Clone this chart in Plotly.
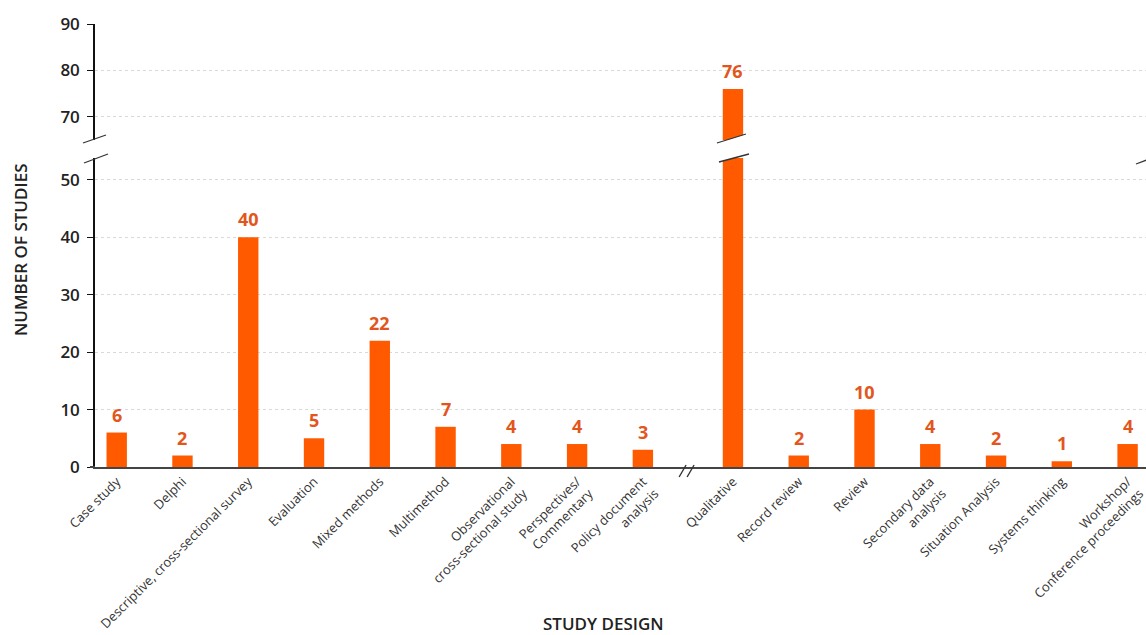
import plotly.graph_objects as go

# Study designs and number of studies per design
categories = [
    "Case study", "Delphi", "Descriptive, cross-sectional survey", "Evaluation",
    "Mixed methods", "Multimethod", "Observational<br>cross-sectional study",
    "Perspectives/<br>Commentary", "Policy document<br>analysis", "Qualitative",
    "Record review", "Review", "Secondary data<br>analysis", "Situation Analysis",
    "Systems thinking", "Workshop/<br>Conference proceedings",
]
counts = [6, 2, 40, 5, 22, 7, 4, 4, 3, 76, 2, 10, 4, 2, 1, 4]

lower_ticks = [0, 10, 20, 30, 40, 50]
upper_ticks = [70, 80, 90]

# Axis break settings
LOWER_MAX = 53.8
UPPER_MIN = 65.0
UPPER_MAX = 90.0
BREAK_INDEX = 9          # x-axis break sits before "Qualitative"
BREAK_GAP = 0.37

BAR_COLOR = "#FF5A00"
LABEL_COLOR = "#E2561E"
FONT = "Open Sans"

xpos = [i + (BREAK_GAP if i >= BREAK_INDEX else 0) for i in range(len(categories))]
upper_vals = [v if v > LOWER_MAX else None for v in counts]

fig = go.Figure()
# Lower panel (0 to break) and upper panel (above break) share the same bars
fig.add_trace(go.Bar(
    x=xpos, y=counts, width=0.31, marker=dict(color=BAR_COLOR, line=dict(width=0)),
    yaxis="y", hoverinfo="skip",
))
fig.add_trace(go.Bar(
    x=xpos, y=upper_vals, width=0.31, marker=dict(color=BAR_COLOR, line=dict(width=0)),
    yaxis="y2", hoverinfo="skip",
))

# Value labels above each bar
label_font = dict(family=FONT, size=18, color=LABEL_COLOR, weight="bold")
for x, v in zip(xpos, counts):
    fig.add_annotation(
        x=x, y=v, xref="x", yref="y2" if v > LOWER_MAX else "y",
        text=str(v), showarrow=False, yanchor="bottom", yshift=4,
        font=label_font,
    )

plot_top, plot_bottom = 24, 467
plot_h = plot_bottom - plot_top
plot_left, plot_right = 95, 1146
plot_w = plot_right - plot_left


def py(pixel_y):
    return (plot_bottom - pixel_y) / plot_h


def px(pixel_x):
    return (pixel_x - plot_left) / plot_w


tick_font = dict(family=FONT, size=17, color="#222222", weight=600)
grid = dict(showgrid=True, gridcolor="#d9d9d9", griddash="dot", gridwidth=1)

fig.update_layout(
    width=1146, height=635,
    margin=dict(l=plot_left, r=0, t=plot_top, b=635 - plot_bottom),
    paper_bgcolor="white", plot_bgcolor="white",
    showlegend=False, barmode="overlay",
    xaxis=dict(
        range=[-0.33, 15.65], tickmode="array", tickvals=xpos, ticktext=categories,
        tickangle=-45, tickfont=dict(family=FONT, size=13, color="#333333"),
        ticklabeloverflow="allow",
        showline=True, linecolor="#444444", linewidth=2, ticks="",
        showgrid=False, zeroline=False, anchor="y",
    ),
    yaxis=dict(
        domain=[0, py(158)], range=[0, LOWER_MAX], tickmode="array", tickvals=lower_ticks,
        tickfont=tick_font, showline=True, linecolor="#111111", linewidth=1.5,
        ticks="outside", ticklen=6, tickcolor="#111111", zeroline=False, anchor="x",
        ticklabelstandoff=4, **grid,
    ),
    yaxis2=dict(
        domain=[py(140), 1], range=[UPPER_MIN, UPPER_MAX], tickmode="array", tickvals=upper_ticks,
        tickfont=tick_font, showline=True, linecolor="#111111", linewidth=1.5,
        ticks="outside", ticklen=6, tickcolor="#111111", zeroline=False, anchor="x",
        ticklabelstandoff=4, **grid,
    ),
)

shapes = []
slash = dict(color="#333333", width=1.3)

# Break marks on the y-axis
shapes.append(dict(type="line", xref="paper", yref="paper",
                   x0=px(83), y0=py(143), x1=px(106), y1=py(135), line=slash))
shapes.append(dict(type="line", xref="paper", yref="paper",
                   x0=px(84), y0=py(163), x1=px(108), y1=py(154), line=slash))
# Break mark at the right edge
shapes.append(dict(type="line", xref="paper", yref="paper",
                   x0=px(1136), y0=py(164), x1=px(1160), y1=py(155), line=slash))

# Break on the tall bar: white band between two slashes
qx = xpos[counts.index(max(counts))]
u = plot_w / 15.98


def dx(pix):
    return qx + pix / u


shapes.append(dict(
    type="path", xref="x", yref="paper",
    path=(f"M {dx(-17)},{py(143.5)} L {dx(15)},{py(133.5)} "
          f"L {dx(17)},{py(153.5)} L {dx(-15)},{py(162.5)} Z"),
    fillcolor="white", line=dict(width=0), layer="above",
))
shapes.append(dict(type="line", xref="x", yref="paper",
                   x0=dx(-16), y0=py(143), x1=dx(13), y1=py(134), line=slash))
shapes.append(dict(type="line", xref="x", yref="paper",
                   x0=dx(-14), y0=py(162), x1=dx(16), y1=py(154), line=slash))

# Break marks on the x-axis
bx = BREAK_INDEX - 1 + (1 + BREAK_GAP) / 2 - 0.02
for off in (-4, 4):
    shapes.append(dict(type="line", xref="x", yref="paper",
                       x0=bx + (off - 3.5) / u, y0=py(477), x1=bx + (off + 3.5) / u, y1=py(465),
                       line=dict(color="#333333", width=1.4)))

# Small left extension of the x-axis line
shapes.append(dict(type="line", xref="paper", yref="paper",
                   x0=px(90), y0=0, x1=0, y1=0, line=dict(color="#444444", width=2)))

fig.update_layout(shapes=shapes)

title_font = dict(family=FONT, size=17, color="#222222", weight=600)
fig.add_annotation(text="NUMBER OF STUDIES", xref="paper", yref="paper",
                   x=px(21), y=py(250), textangle=-90, showarrow=False,
                   font=title_font, xanchor="center", yanchor="middle")
fig.add_annotation(text="STUDY DESIGN", xref="paper", yref="paper",
                   x=px(603), y=py(623), showarrow=False,
                   font=title_font, xanchor="center", yanchor="middle")

fig.write_html("out.html")
